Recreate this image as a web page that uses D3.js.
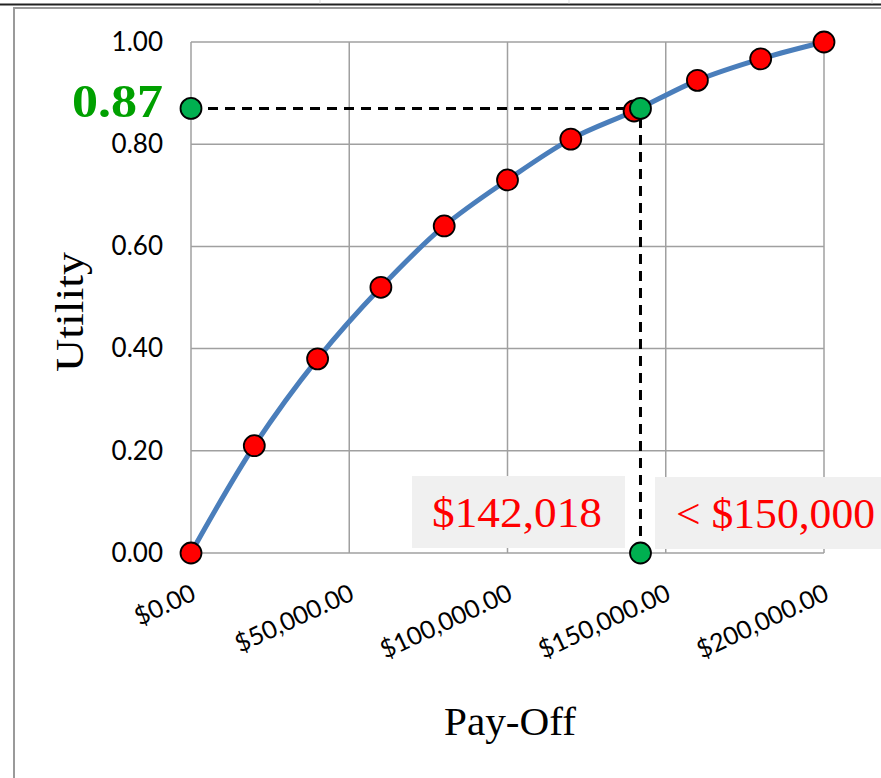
<!DOCTYPE html>
<html>
<head>
<meta charset="utf-8">
<script src="https://cdn.jsdelivr.net/npm/d3@7"></script>
<style>
  html, body { margin: 0; padding: 0; background: #fff; }
  svg { display: block; }
</style>
</head>
<body>
<svg id="chart" width="881" height="778"></svg>
<script>
// Utility curve: pay-off vs utility
const payoffs = [0, 20000, 40000, 60000, 80000, 100000, 120000, 140000, 160000, 180000, 200000];
const utilities = [0, 0.21, 0.38, 0.52, 0.64, 0.73, 0.81, 0.865, 0.925, 0.967, 1.0];

// Certainty equivalent reading
const cePayoff = 142018;
const ceUtility = 0.87;
const guidePoints = [[0, ceUtility], [cePayoff, ceUtility], [cePayoff, 0]];

const xTicks = [0, 50000, 100000, 150000, 200000];
const yTicks = [0, 0.2, 0.4, 0.6, 0.8, 1.0];
const ceLabel = "$142,018";
const compareLabel = "< $150,000";

const svg = d3.select("#chart");
const W = 881, H = 778;
const serif = "'Liberation Serif', 'DejaVu Serif', serif";
const sans = "Lato, 'Open Sans', sans-serif";

// sheet frame around the chart
svg.append("line").attr("x1", 0).attr("x2", W).attr("y1", 4.5).attr("y2", 4.5)
  .attr("stroke", "#222").attr("stroke-width", 2);
[320, 569, 872].forEach(x => svg.append("line").attr("x1", x).attr("x2", x)
  .attr("y1", 0).attr("y2", 3.5).attr("stroke", "#ddd").attr("stroke-width", 1));
svg.append("line").attr("x1", 13).attr("x2", W).attr("y1", 8).attr("y2", 8)
  .attr("stroke", "#9a9a9a").attr("stroke-width", 2);
svg.append("line").attr("x1", 14).attr("x2", 14).attr("y1", 8).attr("y2", H)
  .attr("stroke", "#9a9a9a").attr("stroke-width", 2);

const x = d3.scaleLinear().domain([0, 200000]).range([191, 824]);
const y = d3.scaleLinear().domain([0, 1]).range([553, 42]);

// grid
const grid = svg.append("g");
grid.selectAll(".gx").data(xTicks).join("line")
  .attr("x1", d => x(d)).attr("x2", d => x(d)).attr("y1", y(0)).attr("y2", y(1))
  .attr("stroke", "#a0a0a0").attr("stroke-width", 1.5);
grid.selectAll(".gy").data(yTicks).join("line")
  .attr("x1", x(0)).attr("x2", x(200000)).attr("y1", d => y(d)).attr("y2", d => y(d))
  .attr("stroke", "#a0a0a0").attr("stroke-width", 1.5);

// y axis labels
const yAxis = d3.axisLeft(y).tickValues(yTicks).tickSize(0).tickPadding(28).tickFormat(d3.format(".2f"));
svg.append("g").attr("transform", `translate(${x(0)},0)`).call(yAxis)
  .call(g => g.select(".domain").remove())
  .call(g => g.selectAll("text").attr("font-family", sans)
    .attr("font-size", 26).attr("fill", "#000"));

// x axis labels, rotated
const xAxis = d3.axisBottom(x).tickValues(xTicks).tickSize(0).tickPadding(0)
  .tickFormat(d => "$" + d3.format(",.2f")(d));
svg.append("g").attr("transform", `translate(0,${y(0)})`).call(xAxis)
  .call(g => g.select(".domain").remove())
  .call(g => g.selectAll("text")
    .attr("font-family", sans).attr("font-size", 25).attr("fill", "#000")
    .attr("text-anchor", "end").attr("dy", null).attr("y", 0)
    .attr("transform", "translate(6,46) rotate(-25)"));

// dashed guide lines
svg.append("path")
  .attr("d", d3.line().x(d => x(d[0])).y(d => y(d[1]))(guidePoints))
  .attr("fill", "none").attr("stroke", "#000").attr("stroke-width", 3)
  .attr("stroke-dasharray", "10,7");

// smoothed curve
const pts = payoffs.map((p, i) => [p, utilities[i]]);
svg.append("path")
  .attr("d", d3.line().x(d => x(d[0])).y(d => y(d[1])).curve(d3.curveCatmullRom.alpha(0.5))(pts))
  .attr("fill", "none").attr("stroke", "#4a7ebb").attr("stroke-width", 5);

svg.selectAll(".pt").data(pts).join("circle")
  .attr("cx", d => x(d[0])).attr("cy", d => y(d[1])).attr("r", 10.5)
  .attr("fill", "#ff0000").attr("stroke", "#000").attr("stroke-width", 1.8);

svg.selectAll(".ce").data(guidePoints).join("circle")
  .attr("cx", d => x(d[0])).attr("cy", d => y(d[1])).attr("r", 10.5)
  .attr("fill", "#00b050").attr("stroke", "#000").attr("stroke-width", 1.8);

// value boxes
function box(x0, y0, w, h, label, tx, len) {
  svg.append("rect").attr("x", x0).attr("y", y0).attr("width", w).attr("height", h).attr("fill", "#f0f0f0");
  svg.append("text").attr("x", tx).attr("y", y0 + h / 2).attr("dy", "0.35em")
    .attr("font-family", serif).attr("font-size", 42)
    .attr("textLength", len).attr("lengthAdjust", "spacingAndGlyphs")
    .attr("fill", "#ff0000").text(label);
}
box(412, 476, 213, 72, ceLabel, 432, 170);
box(655, 477, 240, 72, compareLabel, 676, 199);

// utility value callout
svg.append("text").attr("x", 72).attr("y", y(ceUtility) + 9)
  .attr("font-family", serif).attr("textLength", 91).attr("lengthAdjust", "spacingAndGlyphs")
  .attr("font-weight", "bold").attr("font-size", 46).attr("fill", "#00a000")
  .text(d3.format(".2f")(ceUtility));

// axis titles
svg.append("text").attr("transform", `translate(83,312) rotate(-90)`)
  .attr("text-anchor", "middle").attr("font-family", serif)
  .attr("textLength", 120).attr("lengthAdjust", "spacingAndGlyphs")
  .attr("font-size", 40).attr("fill", "#000").text("Utility");
svg.append("text").attr("x", 510).attr("y", 735)
  .attr("text-anchor", "middle").attr("font-family", serif)
  .attr("textLength", 132).attr("lengthAdjust", "spacingAndGlyphs")
  .attr("font-size", 40).attr("fill", "#000").text("Pay-Off");
</script>
</body>
</html>
